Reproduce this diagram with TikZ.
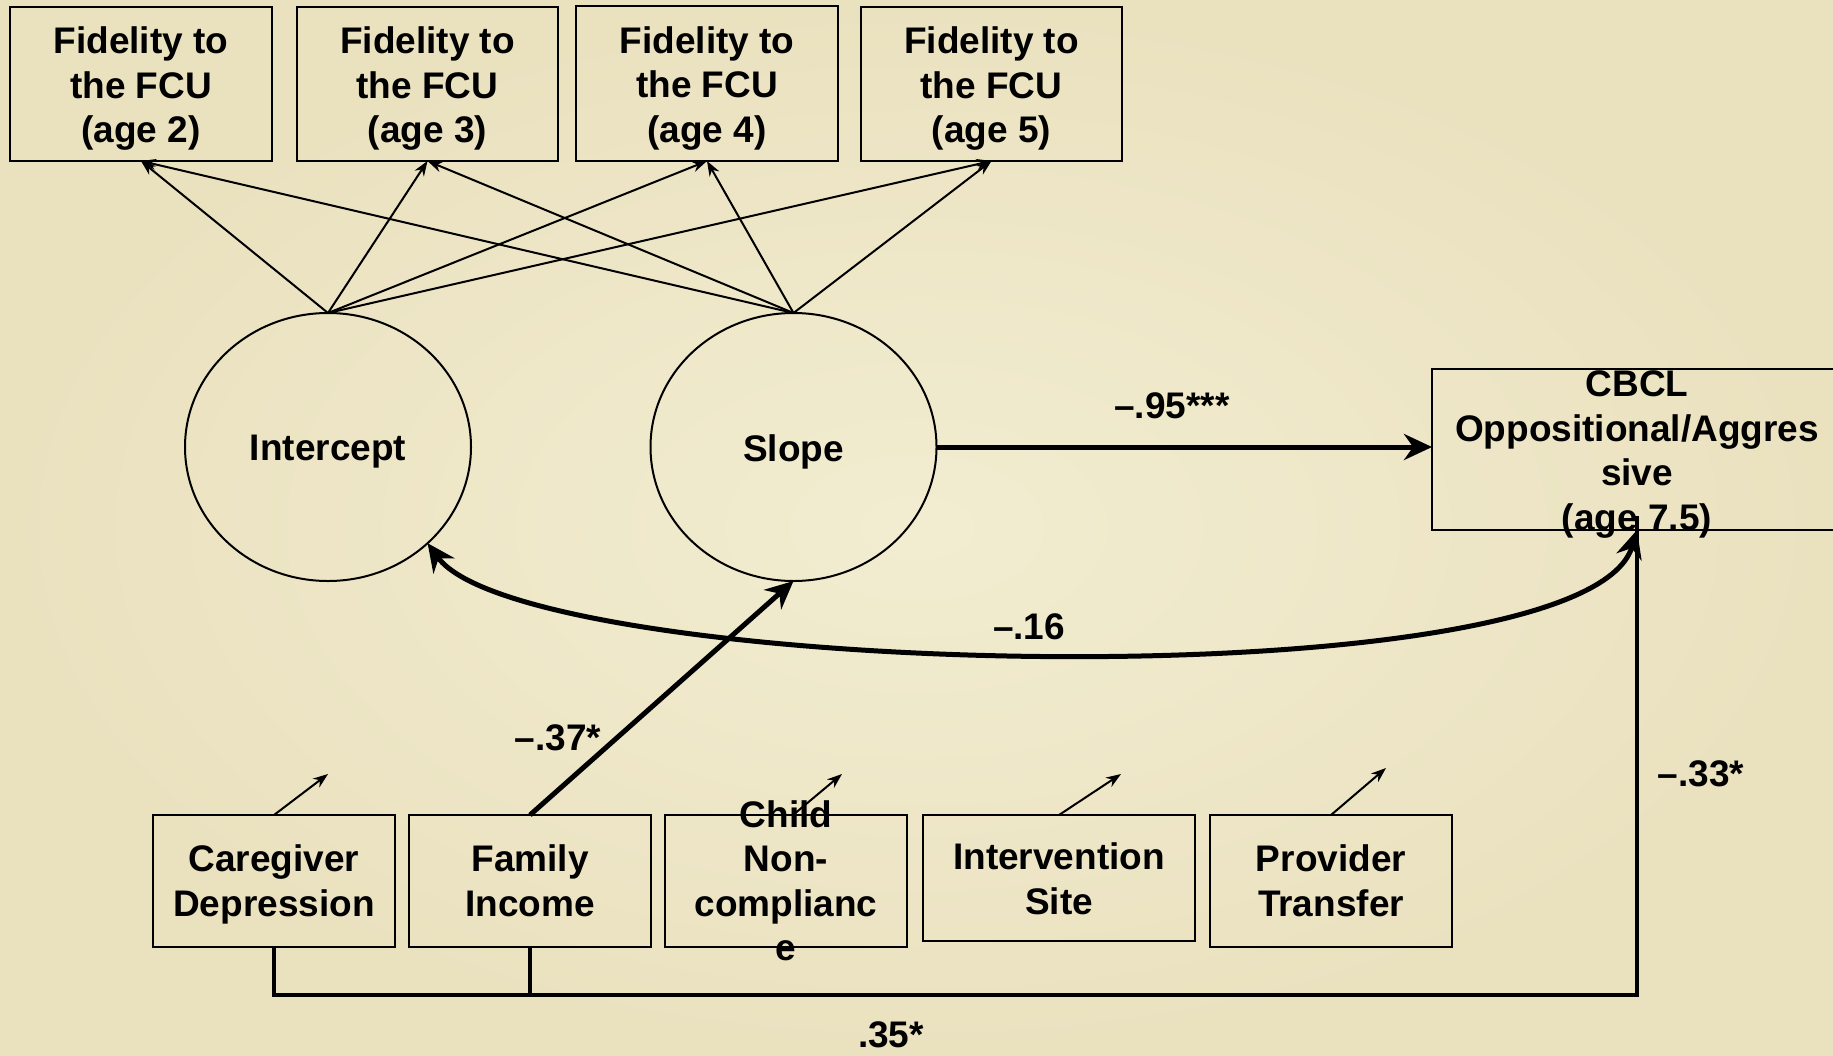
\documentclass[tikz,border=0pt]{standalone}
\usepackage{fontspec}
\setmainfont{Liberation Sans}
\usetikzlibrary{arrows.meta,shapes.geometric}
\definecolor{paperin}{RGB}{242,237,209}
\definecolor{paperout}{RGB}{234,225,191}
\begin{document}
\begin{tikzpicture}[x=1pt,y=-1pt,
  every node/.style={inner sep=0pt, outer sep=0pt},
  box/.style={draw, line width=2.5pt, rectangle},
  latent/.style={draw, line width=2pt, ellipse, minimum width=286pt, minimum height=268pt},
  txt/.style={font=\fontsize{37}{44.5}\selectfont\bfseries, align=center},
  intxt/.style={txt, yshift=-5pt},
  load/.style={line width=2pt, -{Stealth[length=15pt,width=11pt]}},
  resid/.style={line width=2pt, -{Stealth[length=15pt,width=11pt]}},
  effect/.style={line width=5pt, -{Stealth[length=28pt,width=26pt]}},
  link/.style={line width=3.5pt, line join=miter},
]
% parchment background
\shade[inner color=paperin, outer color=paperout] (0,0) rectangle (1833,1055);
\useasboundingbox (0,0) rectangle (1833,1055);

% repeated fidelity measures
\node[box, minimum width=262pt, minimum height=154pt] (F2) at (141,84) {};
\node[box, minimum width=261pt, minimum height=154pt] (F3) at (427.5,84) {};
\node[box, minimum width=262pt, minimum height=155pt] (F4) at (707,83.5) {};
\node[box, minimum width=261pt, minimum height=154pt] (F5) at (991.5,84) {};
\node[intxt] (F2t) at (F2) {Fidelity to\\the FCU\\(age 2)};
\node[intxt] (F3t) at (F3) {Fidelity to\\the FCU\\(age 3)};
\node[intxt] (F4t) at (F4) {Fidelity to\\the FCU\\(age 4)};
\node[intxt] (F5t) at (F5) {Fidelity to\\the FCU\\(age 5)};

% growth factors
\node[latent] (I) at (328,447) {};
\node[latent] (S) at (793.5,447) {};
\node[intxt] (It) at (I) {Intercept};
\node[intxt] (St) at (S) {Slope};

% outcome
\node[box, minimum width=410pt, minimum height=161pt] (C) at (1637,449.5) {};
\node[intxt] (Ct) at (C) {CBCL\\Oppositional/Aggres\\sive\\(age 7.5)};

% covariates
\node[box, minimum width=242pt, minimum height=132pt] (CD) at (274,881) {};
\node[box, minimum width=242pt, minimum height=132pt] (FI) at (530,881) {};
\node[box, minimum width=242pt, minimum height=132pt] (CN) at (786,881) {};
\node[box, minimum width=272pt, minimum height=126pt] (IS) at (1059,878) {};
\node[box, minimum width=242pt, minimum height=132pt] (PT) at (1331,881) {};
\node[txt, yshift=-3.5pt] (CDt) at (CD) {Caregiver\\Depression};
\node[txt] (FIt) at (FI) {Family\\Income};
\node[txt] (CNt) at (CN) {Child\\Non-\\complianc\\e};
\node[txt, yshift=-1pt] (ISt) at (IS) {Intervention\\Site};
\node[txt] (PTt) at (PT) {Provider\\Transfer};

% factor loadings
\foreach \b in {F2,F3,F4,F5} {
  \draw[load] (I.north) -- (\b.south);
  \draw[load] (S.north) -- (\b.south);
}

% structural paths
\draw[effect] (S.east) -- (S.east -| C.west);
\draw[effect] (FI.north) -- (S.south);
\draw[line width=5pt, {Stealth[length=28pt,width=26pt]}-{Stealth[length=28pt,width=26pt]}]
  (I.-44) .. controls (525,678) and (1585,705) .. (C.south);

% covariate paths to the outcome
\coordinate (jn) at (1000,995);
\draw[link] (CD.south) |- (jn) -| ([yshift=14pt]C.south);
\draw[link] (FI.south) -- (FI.south |- jn);

% short arrows from covariates
\coordinate (cdE) at (328,774);
\coordinate (cnE) at (842,774);
\coordinate (isE) at (1121,774);
\coordinate (ptE) at (1386,768);
\draw[resid] (CD.north) -- (cdE);
\draw[resid] ([xshift=7pt]CN.north) -- (cnE);
\draw[resid] (IS.north) -- (isE);
\draw[resid] (PT.north) -- (ptE);

% coefficients
\node[txt] (k95) at (1172,406) {–.95***};
\node[txt] (k16) at (1029,627) {–.16};
\node[txt] (k37) at (558,738) {–.37*};
\node[txt] (k33) at (1701,774) {–.33*};
\node[txt] (k35) at (891,1035) {.35*};
\end{tikzpicture}
\end{document}
